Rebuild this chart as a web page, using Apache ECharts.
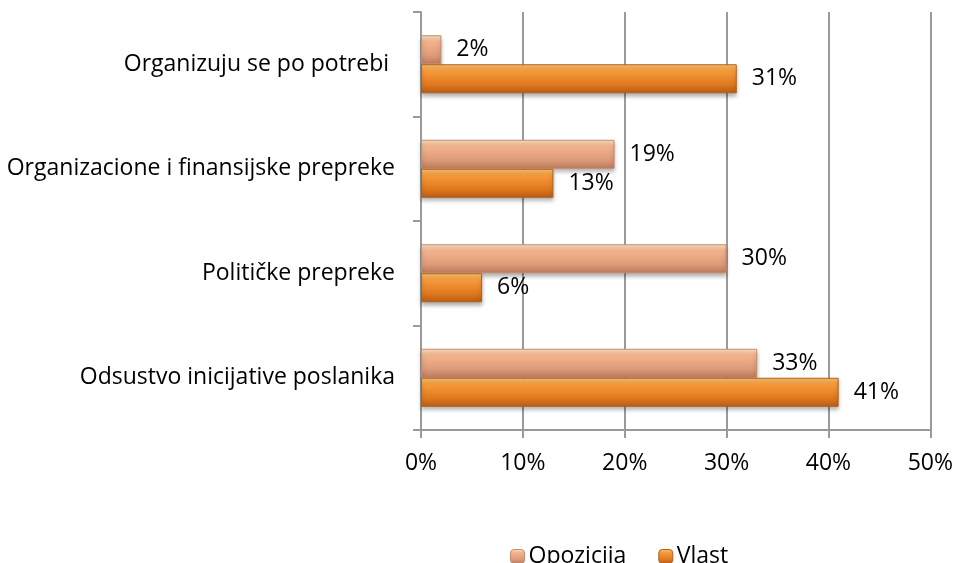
<!DOCTYPE html>
<html>
<head>
<meta charset="utf-8">
<script src="https://cdn.jsdelivr.net/npm/echarts@6/dist/echarts.min.js"></script>
<style>
html, body { margin: 0; padding: 0; background: #fff; }
#chart { width: 956px; height: 563px; }
</style>
</head>
<body>
<div id="chart"></div>
<script>
var categories = ['Odsustvo inicijative poslanika', 'Političke prepreke', 'Organizacione i finansijske prepreke', 'Organizuju se po potrebi '];
var opozicija = [33, 30, 19, 2];
var vlast = [41, 6, 13, 31];
var seriesNames = ['Opozicija', 'Vlast'];

var font = '"Open Sans", Lato, sans-serif';
var fs = 23;

function grad(c0, c1, c2, c3) {
    return new echarts.graphic.LinearGradient(0, 0, 0, 1, [
        { offset: 0, color: c0 },
        { offset: 0.25, color: c1 },
        { offset: 0.7, color: c2 },
        { offset: 1, color: c3 }
    ]);
}

var chart = echarts.init(document.getElementById('chart'));
chart.setOption({
    animation: false,
    grid: { left: 421, right: 24, top: 12, bottom: 133 },
    legend: {
        data: seriesNames,
        left: 505,
        top: 540,
        itemWidth: 14,
        itemHeight: 14,
        itemGap: 32,
        textStyle: { fontFamily: font, fontSize: fs, color: '#000', padding: [0, 0, 0, -1] },
        itemStyle: { shadowBlur: 0, shadowOffsetY: 0, borderWidth: 1 }
    },
    xAxis: {
        type: 'value',
        min: 0,
        max: 50,
        interval: 10,
        axisLine: { show: true, lineStyle: { color: '#9a9a9a', width: 2 } },
        axisTick: { show: true, length: 8, lineStyle: { color: '#9a9a9a', width: 2 } },
        splitLine: { show: true, lineStyle: { color: '#9a9a9a', width: 2 } },
        axisLabel: { formatter: '{value}%', margin: 22, fontFamily: font, fontSize: fs, color: '#000' }
    },
    yAxis: {
        type: 'category',
        data: categories,
        axisLine: { show: true, lineStyle: { color: '#9a9a9a', width: 2 } },
        axisTick: { show: true, length: 8, lineStyle: { color: '#9a9a9a', width: 2 } },
        axisLabel: { margin: 26, fontFamily: font, fontSize: fs, color: '#000' }
    },
    series: [{
        name: 'Opozicija',
        type: 'bar',
        data: opozicija,
        barWidth: 29,
        barGap: '0%',
        itemStyle: {
            color: grad('#fde3c4', '#f4b28c', '#dc9a78', '#b97a5c'),
            borderColor: '#c98a6c',
            borderWidth: 1,
            shadowColor: 'rgba(0,0,0,0.3)',
            shadowBlur: 4,
            shadowOffsetY: 3
        },
        label: { show: true, position: 'right', distance: 15, formatter: '{c}%', fontFamily: font, fontSize: fs, color: '#000' }
    }, {
        name: 'Vlast',
        type: 'bar',
        data: vlast,
        barWidth: 29,
        barGap: '0%',
        itemStyle: {
            color: grad('#fdc070', '#f59a3a', '#e0781e', '#b85c16'),
            borderColor: '#b0601c',
            borderWidth: 1,
            shadowColor: 'rgba(0,0,0,0.3)',
            shadowBlur: 4,
            shadowOffsetY: 3
        },
        label: { show: true, position: 'right', distance: 15, formatter: '{c}%', fontFamily: font, fontSize: fs, color: '#000' }
    }]
});
</script>
</body>
</html>
